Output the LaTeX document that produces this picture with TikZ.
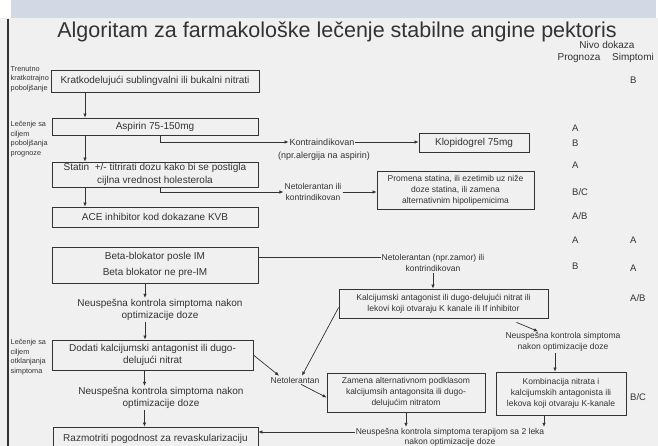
\documentclass[tikz,border=0pt]{standalone}
\usepackage{fontspec}
\setmainfont{Liberation Sans}
\usetikzlibrary{arrows.meta,positioning}
\definecolor{bandblue}{HTML}{D3D8E5}
\definecolor{slidegray}{HTML}{F0F0F0}
\definecolor{ink}{HTML}{333333}
\tikzset{
  block/.style = {draw=ink, line width=0.8pt, rectangle, inner sep=0pt,
                  align=center, text=ink, font=\fontsize{10}{12.5}\selectfont},
  smallblock/.style = {block, font=\fontsize{8.5}{11}\selectfont},
  note/.style  = {align=center, inner sep=1pt, text=ink, font=\fontsize{10}{12.5}\selectfont},
  smallnote/.style = {note, font=\fontsize{8.5}{11}\selectfont},
  side/.style  = {anchor=north west, align=left, inner sep=0pt, text=ink,
                  font=\fontsize{7.3}{9.6}\selectfont},
  grade/.style = {anchor=west, inner sep=0pt, text=ink, font=\fontsize{9.5}{11}\selectfont},
  sig/.style   = {-{Latex[length=4pt,width=3.5pt]}, draw=ink, line width=0.7pt},
  wire/.style  = {draw=ink, line width=0.7pt},
}

\begin{document}
\begin{tikzpicture}[x=1pt,y=-1pt]
\useasboundingbox (0,0) rectangle (658,446);
% slide background
\fill[white] (0,0) rectangle (658,446);
\fill[slidegray] (0,18) rectangle (658,446);
\fill[bandblue] (11,0) rectangle (656,18);
\fill[black!80] (7.2,19) rectangle (8.9,446);

\node[text=ink, font=\fontsize{21.5}{25}\selectfont] (title) at (337,32)
  {Algoritam za farmakološke lečenje stabilne angine pektoris};
\node[note, font=\fontsize{10}{12}\selectfont] (nivo) at (607,45) {Nivo dokaza};
\node[note, font=\fontsize{10}{12}\selectfont] (progn) at (579,58) {Prognoza};
\node[note, font=\fontsize{10}{12}\selectfont] (simpt) at (633,58) {Simptomi};

% left labels
\node[side] (lab1) at (10.5,66) {Trenutno\\kratkotrajno\\poboljšanje};
\node[side] (lab2) at (10.5,121) {Lečenje sa\\ciljem\\poboljšanja\\prognoze};
\node[side] (lab3) at (10.5,339) {Lečenje sa\\ciljem\\otklanjanja\\simptoma};

% boxes
\node[block, minimum width=208pt, minimum height=22pt] (kratko) at (155,81)
  {Kratkodelujući sublingvalni ili bukalni nitrati};
\node[block, minimum width=206pt, minimum height=17pt] (aspirin) at (155,126.5)
  {Aspirin 75-150mg};
\node[block, minimum width=206pt, minimum height=25pt] (statin) at (155,174.5)
  {Statin\ \ +/- titrirati dozu kako bi se postigla\\cijlna vrednost holesterola};
\node[block, minimum width=206pt, minimum height=20pt] (ace) at (155,217)
  {ACE inhibitor kod dokazane KVB};
\node[block, minimum width=110pt, minimum height=19pt] (klopi) at (474,142.5)
  {Klopidogrel 75mg};
\node[smallblock, minimum width=157pt, minimum height=38pt] (promena) at (455.5,190)
  {Promena statina, ili ezetimib uz niže\\doze statina, ili zamena\\alternativnim hipolipemicima};
\node[block, minimum width=206pt, minimum height=36pt] (beta) at (155,265)
  {Beta-blokator posle IM\\[4pt]Beta blokator ne pre-IM};
\node[smallblock, minimum width=209pt, minimum height=29pt] (kalc) at (443.5,303.5)
  {Kalcijumski antagonist ili dugo-delujući nitrat ili\\lekovi koji otvaraju K kanale ili If inhibitor};
\node[block, minimum width=201pt, minimum height=30pt] (dodati) at (152.5,355)
  {Dodati kalcijumski antagonist ili dugo-\\delujući nitrat};
\node[smallblock, minimum width=158pt, minimum height=39pt] (zamena) at (406,392.5)
  {Zamena alternativnom podklasom\\kalcijumsih antagonsita ili dugo-\\delujućim nitratom};
\node[smallblock, minimum width=130pt, minimum height=43pt] (kombi) at (561,393.5)
  {Kombinacija nitrata i\\kalcijumskih antagonista ili\\lekova koji otvaraju K-kanale};
\node[block, minimum width=205pt, minimum height=23pt] (revask) at (155.5,438.5)
  {Razmotriti pogodnost za revaskularizaciju};

% free texts
\node[smallnote, font=\fontsize{9}{11}\selectfont] (kontra) at (322,142) {Kontraindikovan};
\node[smallnote, font=\fontsize{9}{11}\selectfont] (kontra2) at (324,156) {(npr.alergija na aspirin)};
\node[smallnote] (netol1) at (313,192) {Netolerantan ili\\kontrindikovan};
\node[smallnote] (netol2) at (433,263) {Netolerantan (npr.zamor) ili\\kontrindikovan};
\node[note] (neusp1) at (160,310) {Neuspešna kontrola simptoma nakon\\optimizacije doze};
\node[note] (neusp2) at (161,398) {Neuspešna kontrola simptoma nakon\\optimizacije doze};
\node[smallnote] (neusp3) at (563,342) {Neuspešna kontrola simptoma\\nakon optimizacije doze};
\node[smallnote] (netol3) at (295,380) {Netolerantan};
\node[smallnote, font=\fontsize{8.5}{10}\selectfont] (neusp4) at (450,437)
  {Neuspešna kontrola simptoma terapijom sa 2 leka\\nakon optimizacije doze};

% levels of evidence
\node[grade] (g1) at (630,80) {B};
\node[grade] (g2) at (572,128) {A};
\node[grade] (g3) at (572,143) {B};
\node[grade] (g4) at (572,165) {A};
\node[grade] (g5) at (572,192) {B/C};
\node[grade] (g6) at (572,216) {A/B};
\node[grade] (g7) at (572,240) {A};
\node[grade] (g8) at (630,240) {A};
\node[grade] (g9) at (572,266) {B};
\node[grade] (g10) at (630,268) {A};
\node[grade] (g11) at (630,298) {A/B};
\node[grade] (g12) at (630,397) {B/C};

% connectors
\draw[sig] ([xshift=-70]kratko.south) -- ([xshift=-70]aspirin.north);
\draw[sig] ([xshift=-70]aspirin.south) -- ([xshift=-70]statin.north);
\draw[sig] ([xshift=-70]statin.south) -- ([xshift=-70]ace.north);
\draw[sig] ([xshift=5]aspirin.south) |- (kontra.west);
\draw[sig] (kontra.east) -- (kontra.east -| klopi.west);
\draw[sig] ([xshift=5]statin.south) |- (netol1.west);
\draw[sig] (netol1.east) -- (netol1.east -| promena.west);
\draw[wire] ([yshift=8]beta.east) -- ([yshift=6]netol2.west);
\draw[sig] (netol2.south) -- (netol2.south |- kalc.north);
\draw[sig] ([xshift=-10]beta.south) -- ([xshift=-10]beta.south |- neusp1.north);
\draw[sig] ([xshift=-10]beta.south |- neusp1.south) -- ([xshift=-10]beta.south |- dodati.north);
\draw[sig] ([xshift=-8]dodati.south) -- ([xshift=-8]dodati.south |- neusp2.north);
\draw[sig] ([xshift=-8]dodati.south |- neusp2.south) -- ([xshift=-8]dodati.south |- revask.north);
\draw[sig] (dodati.east) -- ([xshift=-16]netol3.north);
\draw[sig] ([yshift=-4]kalc.west) -- ([xshift=7]netol3.north);
\draw[sig] ([xshift=6]netol3.south) -- ([yshift=-5]zamena.west);
\draw[sig] ([xshift=73,yshift=-4]kalc.south) -- ([xshift=-25]neusp3.north);
\draw[sig] ([xshift=-8]neusp3.south) -- ([xshift=-8]neusp3.south |- kombi.north);
\draw[sig] (zamena.south) -- (zamena.south |- neusp4.north);
\draw[sig] ([xshift=-17]kombi.south) -- ([xshift=-17]kombi.south |- neusp4.north);
\draw[sig] ([yshift=5]neusp4.west) -- ([yshift=5]neusp4.west -| revask.east);
\end{tikzpicture}
\end{document}
